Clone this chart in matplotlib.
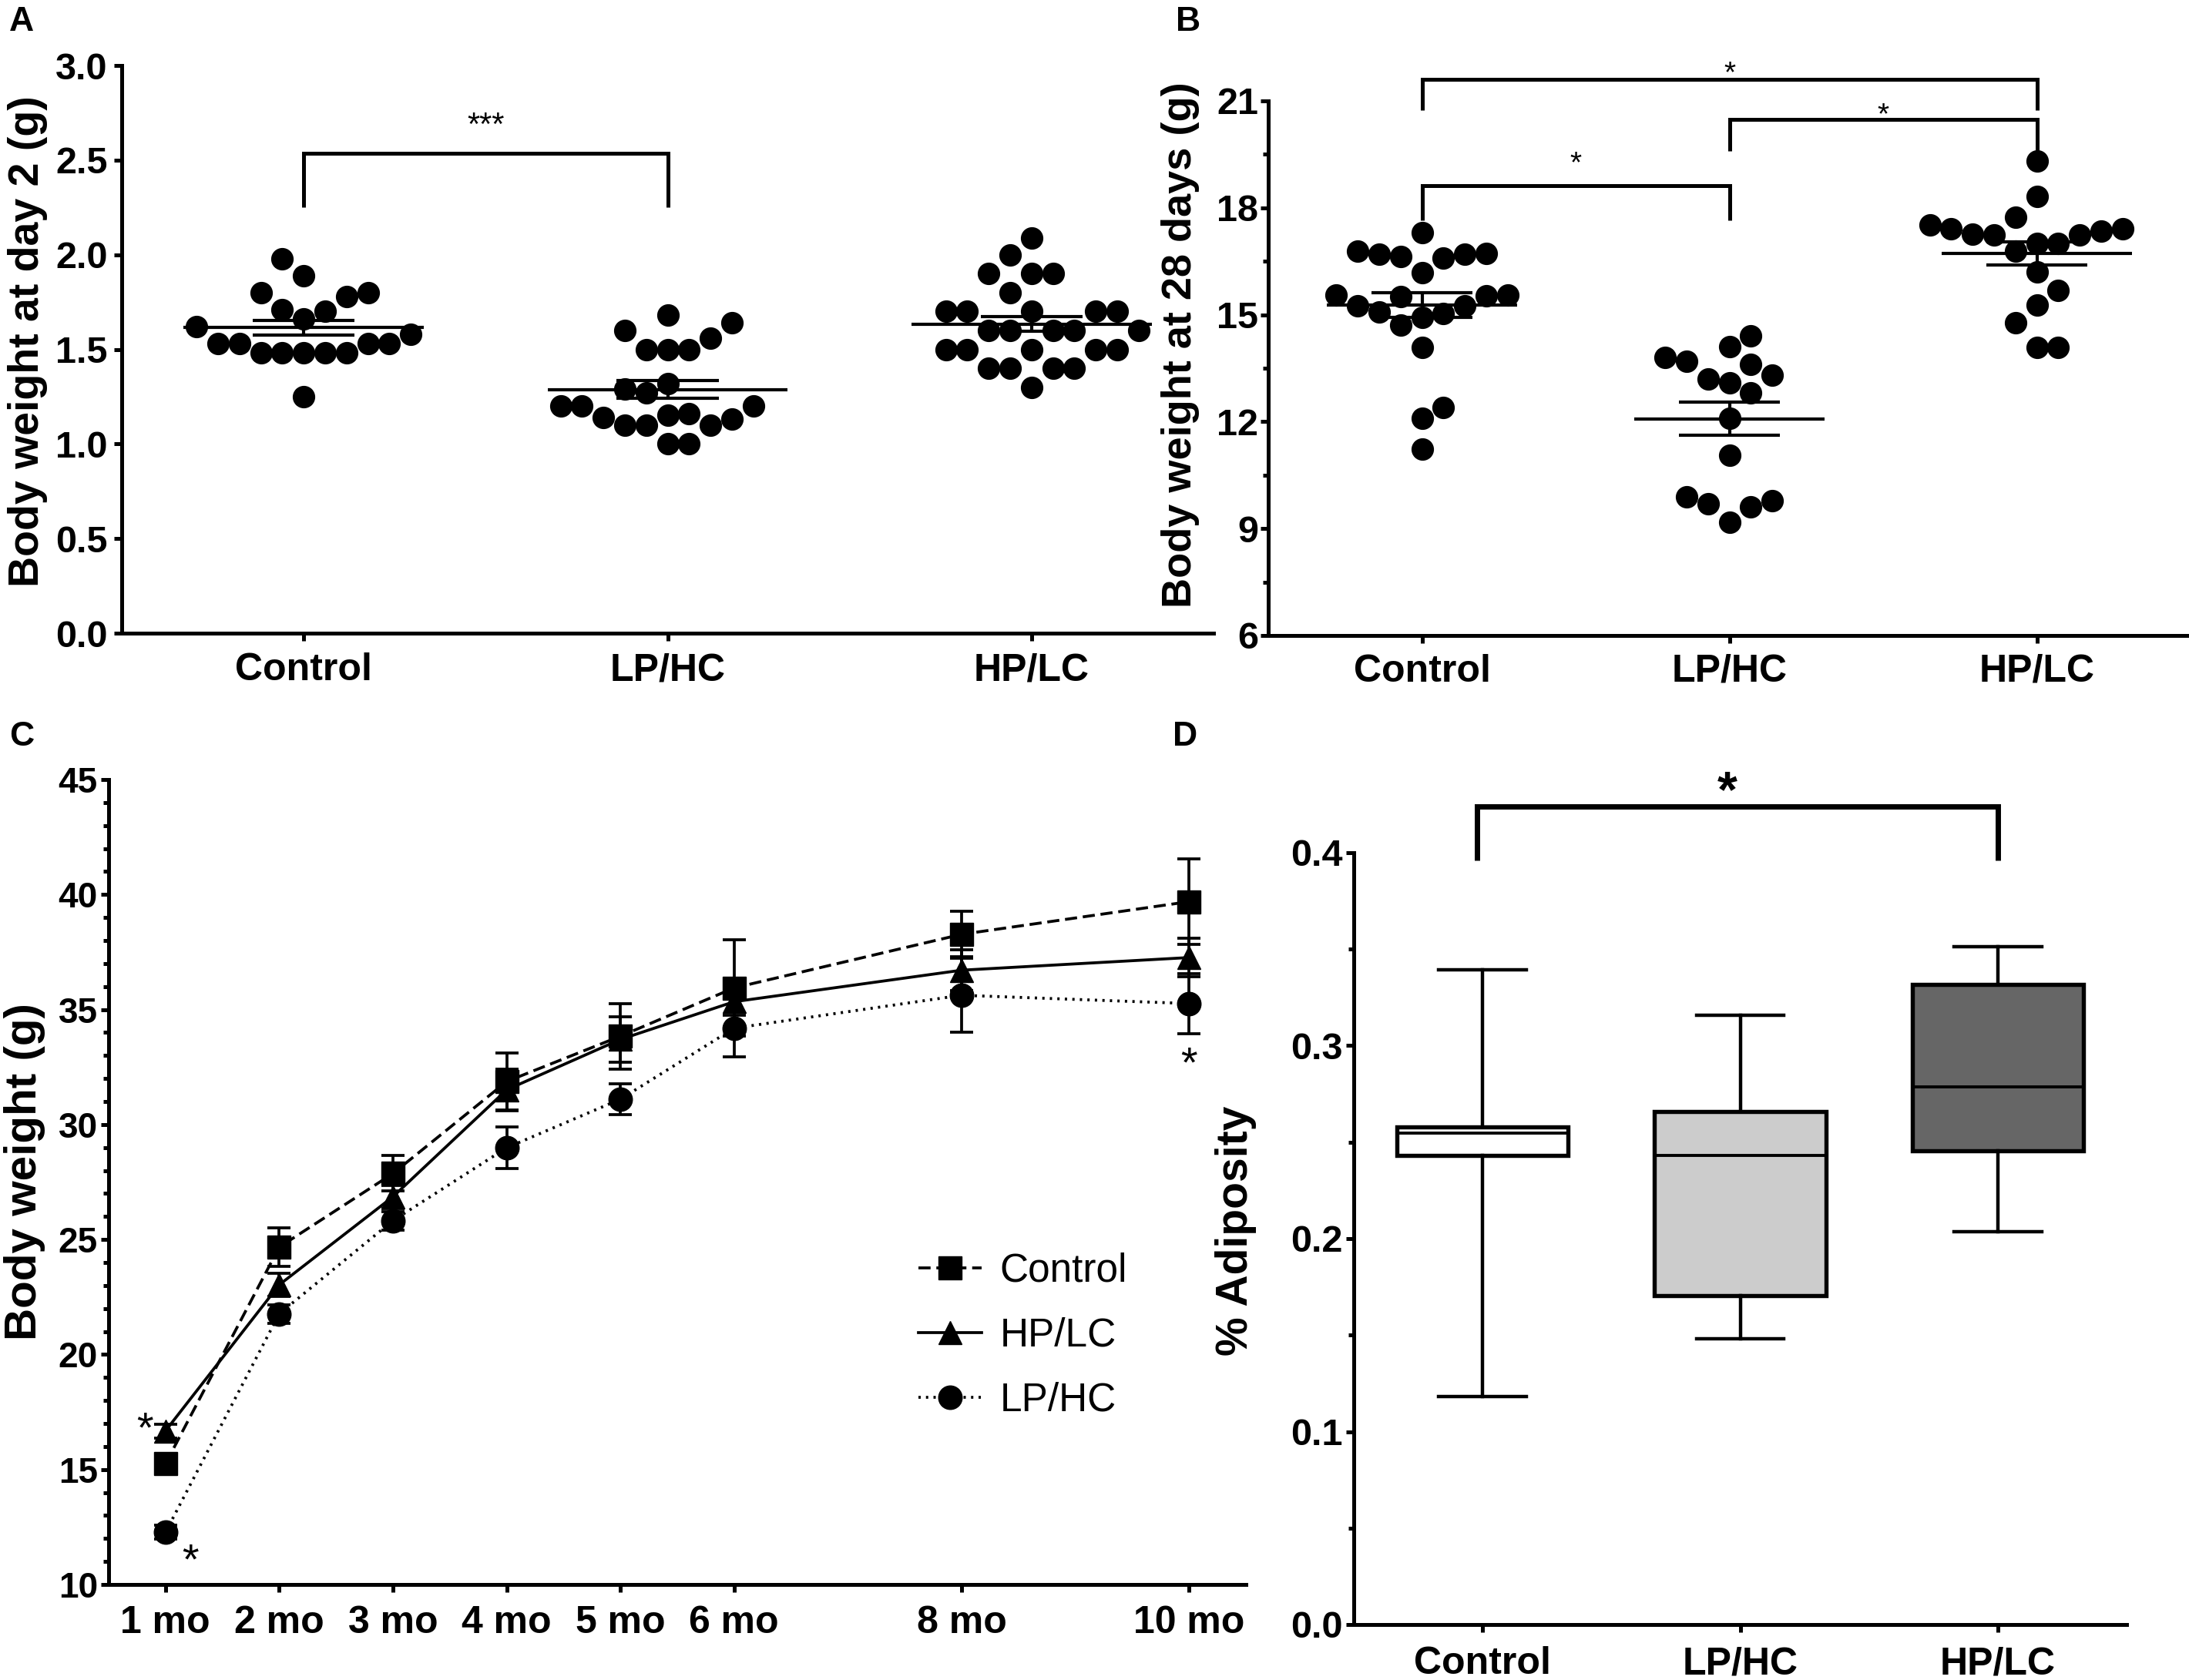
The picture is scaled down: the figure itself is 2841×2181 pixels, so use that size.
import numpy as np
import matplotlib
matplotlib.use('Agg')
import matplotlib.pyplot as plt
from matplotlib.lines import Line2D
from matplotlib.ticker import MultipleLocator, FormatStrFormatter, FixedLocator

plt.rcParams['font.family'] = ['Liberation Sans', 'DejaVu Sans']
plt.rcParams['font.weight'] = 'bold'

# ---------------- data ----------------
groups = ['Control', 'LP/HC', 'HP/LC']

# Panel A: body weight at day 2 (g)
a_control = [1.98, 1.89, 1.80, 1.80, 1.78, 1.71, 1.70, 1.66, 1.62, 1.58,
             1.53, 1.53, 1.53, 1.53, 1.48, 1.48, 1.48, 1.48, 1.48, 1.25]
a_lphc = [1.68, 1.64, 1.60, 1.56, 1.50, 1.50, 1.50, 1.32, 1.29, 1.27, 1.20,
          1.20, 1.20, 1.16, 1.14, 1.15, 1.10, 1.10, 1.10, 1.13, 1.00, 1.00]
a_hplc = [2.09, 2.00, 1.90, 1.90, 1.90, 1.80, 1.70, 1.70, 1.70, 1.70, 1.70,
          1.60, 1.60, 1.60, 1.60, 1.60, 1.50, 1.50, 1.50, 1.50, 1.50,
          1.40, 1.40, 1.40, 1.40, 1.30]

# Panel B: body weight at 28 days (g)
b_control = [17.31, 16.79, 16.71, 16.60, 16.64, 16.70, 16.70, 16.19, 15.56, 15.52,
             15.54, 15.56, 15.24, 15.24, 15.08, 15.04, 14.92, 14.71, 14.09, 12.40,
             12.09, 11.23]
b_lphc = [14.41, 14.11, 13.80, 13.60, 13.70, 13.30, 13.19, 13.10, 12.80, 12.09,
          11.06, 9.89, 9.69, 9.79, 9.60, 9.18]
b_hplc = [19.32, 18.31, 17.74, 17.52, 17.41, 17.26, 17.24, 17.00, 17.00, 17.24,
          17.34, 17.41, 16.78, 16.20, 15.68, 15.28, 14.78, 14.09, 14.09]

# Panel C: body weight over time (mean, SEM)
months = [1, 2, 3, 4, 5, 6, 8, 10]
month_labels = ['1 mo', '2 mo', '3 mo', '4 mo', '5 mo', '6 mo', '8 mo', '10 mo']
c_control = [15.25, 24.67, 27.87, 31.87, 33.84, 35.94, 38.27, 39.69]
c_control_sem = [0.3, 0.85, 0.77, 1.25, 1.42, 2.08, 0.99, 1.86]
c_hplc = [16.68, 23.03, 26.86, 31.51, 33.70, 35.34, 36.71, 37.26]
c_hplc_sem = [0.3, 0.5, 0.5, 0.9, 1.0, 0.6, 0.9, 0.85]
c_lphc = [12.27, 21.77, 25.82, 28.99, 31.10, 34.19, 35.62, 35.26]
c_lphc_sem = [0.3, 0.4, 0.4, 0.9, 0.68, 1.26, 1.6, 1.3]

# Panel D: % adiposity box plot
d_whislo = [0.118, 0.1483, 0.2037]
d_q1 = [0.2432, 0.1705, 0.2455]
d_med = [0.2546, 0.2432, 0.2787]
d_q3 = [0.2579, 0.2660, 0.3319]
d_whishi = [0.3394, 0.3156, 0.3514]
d_colors = ['#ffffff', '#cccccc', '#666666']

# ---------------- figure ----------------
W, H = 2841, 2181
fig = plt.figure(figsize=(W / 100, H / 100), dpi=100)


def add_axes(l, r, t, b):
    return fig.add_axes([l / W, 1 - b / H, (r - l) / W, (b - t) / H])


axA = add_axes(158, 1575, 85, 822)
axB = add_axes(1646, 2843, 131, 825)
axC = add_axes(141, 1617, 1012, 2057)
axD = add_axes(1757, 2760, 1107, 2109)

SPW = 3.6
for ax in (axA, axB, axC, axD):
    for s in ('top', 'right'):
        ax.spines[s].set_visible(False)
    for s in ('left', 'bottom'):
        ax.spines[s].set_linewidth(SPW)
    ax.tick_params(which='major', width=SPW, length=7.2, direction='out')
    ax.tick_params(which='minor', width=SPW, length=4.8, direction='out')
    ax.patch.set_alpha(0)


def swarm_offsets(ax, values, xlim, ylim, d_px, vfac=1.3):
    """Row-style scatter layout: points that are vertically close are
    pushed sideways onto slots spaced by one dot width."""
    pos = ax.get_position()
    xppu = pos.width * W / (xlim[1] - xlim[0])
    yppu = pos.height * H / (ylim[1] - ylim[0])
    vals = np.asarray(values, float)
    order = np.argsort(vals, kind='stable')
    placed = []
    offs = np.zeros(len(vals))
    side = 1
    for i in order:
        y = vals[i] * yppu
        near = [px for (px, py) in placed if abs(py - y) < vfac * d_px]
        cands = [0.0]
        for px in near:
            cands += [px + d_px, px - d_px]
        cands = sorted(set(round(c, 6) for c in cands),
                       key=lambda c: (abs(c), -side * c))
        chosen = cands[0]
        for c in cands:
            if all(abs(c - px) >= d_px - 1e-6 for px in near):
                chosen = c
                break
        if chosen != 0:
            side = -side
        placed.append((chosen, y))
        offs[i] = chosen / xppu
    return offs


def dot_panel(ax, data, ylim, mean_hw, cap_hw, dot_ms):
    xlim = (-0.5, 2.5)
    ax.set_xlim(*xlim)
    ax.set_ylim(*ylim)
    for i, vals in enumerate(data):
        offs = swarm_offsets(ax, vals, xlim, ylim, dot_ms * 100 / 72 * 1.0)
        ax.plot(i + offs, vals, 'o', color='black', ms=dot_ms, mec='black',
                zorder=2, clip_on=False)
        m = np.mean(vals)
        s = np.std(vals, ddof=1) / np.sqrt(len(vals))
        ax.hlines(m, i - mean_hw, i + mean_hw, color='black', lw=3.0, zorder=3)
        ax.hlines([m - s, m + s], i - cap_hw, i + cap_hw, color='black', lw=3.0, zorder=3)
        ax.vlines(i, m - s, m + s, color='black', lw=3.0, zorder=3)
    ax.set_xticks(range(len(groups)))
    ax.set_xticklabels(groups)


def bracket(ax, x1, x2, y_top, y1, y2, lw):
    ax.plot([x1, x1, x2, x2], [y1, y_top, y_top, y2], color='black', lw=lw,
            solid_joinstyle='miter', solid_capstyle='butt', clip_on=False)


def star(ax, x, y, text, size, weight='normal'):
    ax.annotate(text, xy=(x, y), xytext=(0, -0.6 * size), textcoords='offset points',
                ha='center', va='baseline', fontsize=size, fontweight=weight,
                annotation_clip=False)


# ---------- Panel A ----------
dot_panel(axA, [a_control, a_lphc, a_hplc], (0, 3.0), 0.33, 0.14, 20)
axA.yaxis.set_major_locator(MultipleLocator(0.5))
axA.yaxis.set_major_formatter(FormatStrFormatter('%.1f'))
axA.tick_params(axis='y', labelsize=35, pad=6)
axA.tick_params(axis='x', labelsize=36, pad=11)
bracket(axA, 0, 1, 2.535, 2.25, 2.25, 3.6)
star(axA, 0.5, 2.735, '***', 30)

# ---------- Panel B ----------
dot_panel(axB, [b_control, b_lphc, b_hplc], (6, 21), 0.31, 0.165, 20)
axB.yaxis.set_major_locator(MultipleLocator(3))
axB.yaxis.set_minor_locator(MultipleLocator(1.5))
axB.tick_params(axis='y', labelsize=35, pad=2)
axB.tick_params(axis='x', labelsize=36, pad=10)
bracket(axB, 0, 2, 21.6, 20.75, 20.75, 3.6)
bracket(axB, 1, 2, 20.48, 19.6, 19.6, 3.6)
bracket(axB, 0, 1, 18.63, 17.65, 17.65, 3.6)
star(axB, 1.0, 22.03, '*', 28)
star(axB, 1.5, 20.87, '*', 28)
star(axB, 0.5, 19.5, '*', 28)

# ---------- Panel C ----------
axC.set_xlim(0.5, 10.5)
axC.set_ylim(10, 45)
LW = 2.7
common = dict(color='black', lw=LW, capsize=11, elinewidth=LW, capthick=LW,
              clip_on=False)
axC.errorbar(months, c_control, yerr=c_control_sem, ls=(0, (4.2, 2.0)), marker='s',
             ms=21, zorder=3, **common)
axC.errorbar(months, c_hplc, yerr=c_hplc_sem, ls='-', marker='^', ms=22,
             zorder=3, **common)
axC.errorbar(months, c_lphc, yerr=c_lphc_sem, ls=(0, (0.8, 1.8)), marker='o',
             ms=22, zorder=3, **common)
axC.xaxis.set_major_locator(FixedLocator(months))
axC.set_xticklabels(month_labels)
axC.yaxis.set_major_locator(MultipleLocator(5))
axC.yaxis.set_minor_locator(MultipleLocator(1))
axC.tick_params(axis='y', labelsize=33, pad=3)
axC.tick_params(axis='x', labelsize=36, pad=12)
star(axC, 0.82, 17.33, '*', 40)
star(axC, 1.22, 11.6, '*', 40)
star(axC, 10.0, 33.2, '*', 40)

handles = [
    Line2D([], [], color='black', lw=LW, ls=(0, (4.2, 2.0)), marker='s', ms=21),
    Line2D([], [], color='black', lw=LW, ls='-', marker='^', ms=22),
    Line2D([], [], color='black', lw=LW, ls=(0, (0.8, 1.8)), marker='o', ms=22),
]
axC.legend(handles, ['Control', 'HP/LC', 'LP/HC'], loc='center left',
           bbox_to_anchor=(0.712, 0.309), frameon=False, handlelength=1.6,
           handletextpad=0.45, labelspacing=0.68, borderpad=0, borderaxespad=0,
           prop={'weight': 'normal', 'size': 37})

# ---------- Panel D ----------
stats = [dict(whislo=d_whislo[i], q1=d_q1[i], med=d_med[i], q3=d_q3[i],
              whishi=d_whishi[i], label=groups[i]) for i in range(3)]
bp = axD.bxp(stats, positions=[0, 1, 2], widths=0.665, patch_artist=True,
             showfliers=False, capwidths=0.34,
             boxprops=dict(lw=3.9, edgecolor='black'),
             whiskerprops=dict(lw=3.2, color='black'),
             capprops=dict(lw=3.2, color='black'),
             medianprops=dict(lw=2.8, color='black'))
for patch, col in zip(bp['boxes'], d_colors):
    patch.set_facecolor(col)
axD.set_xlim(-0.5, 2.5)
axD.set_ylim(0, 0.4)
axD.yaxis.set_major_locator(MultipleLocator(0.1))
axD.yaxis.set_minor_locator(MultipleLocator(0.05))
axD.yaxis.set_major_formatter(FormatStrFormatter('%.1f'))
axD.tick_params(axis='y', labelsize=35, pad=3)
axD.tick_params(axis='x', labelsize=36, pad=13)
bracket(axD, -0.02, 2.0, 0.4238, 0.396, 0.396, 5)
star(axD, 0.95, 0.44, '*', 48, 'bold')

# ---------- axis labels & panel letters ----------
fig.text(10 / W, 1 - 443 / H, 'Body weight at day 2 (g)', rotation=90,
         ha='left', va='center', fontsize=40, fontweight='bold')
fig.text(1507 / W, 1 - 448 / H, 'Body weight at 28 days (g)', rotation=90,
         ha='left', va='center', fontsize=39, fontweight='bold')
fig.text(5 / W, 1 - 1521 / H, 'Body weight (g)', rotation=90,
         ha='left', va='center', fontsize=42, fontweight='bold')
fig.text(1577 / W, 1 - 1598 / H, '% Adiposity', rotation=90,
         ha='left', va='center', fontsize=41, fontweight='bold')

for letter, x, y in [('A', 12, 8), ('B', 1526, 8), ('C', 12, 936), ('D', 1522, 936)]:
    fig.text(x / W, 1 - y / H, letter, ha='left', va='top', fontsize=32,
             fontweight='bold')

fig.savefig('out.png', dpi=100, facecolor='white')
